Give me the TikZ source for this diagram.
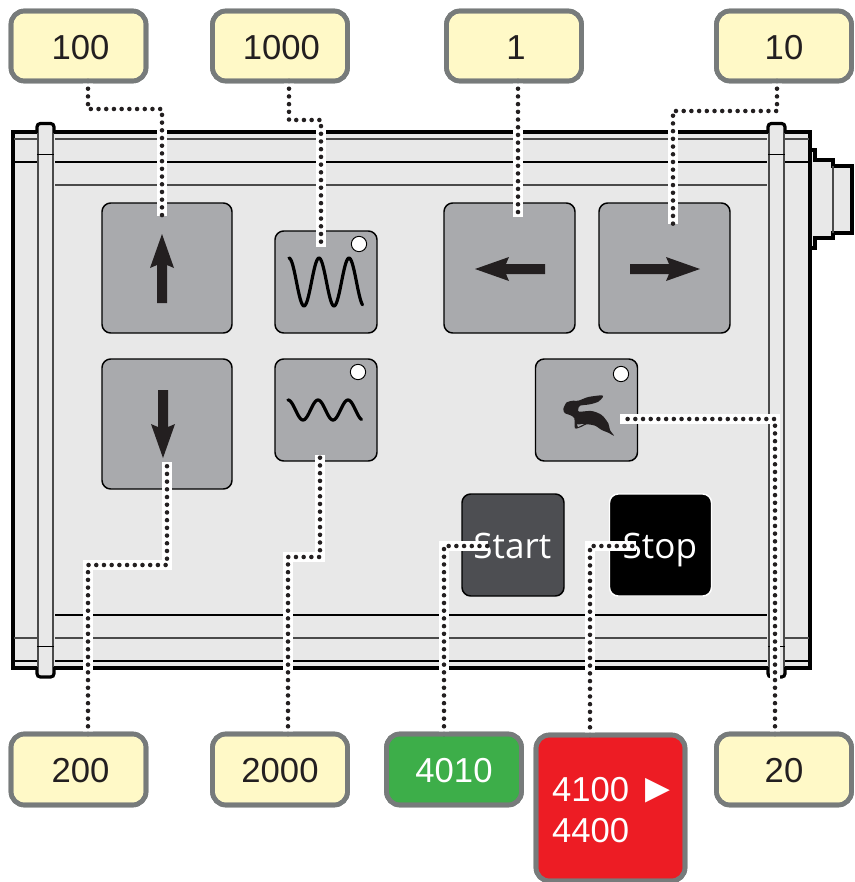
\documentclass[tikz,border=0pt]{standalone}
\usepackage{fontspec}
\setmainfont{Liberation Sans}
\newfontfamily\btnfont{Open Sans}
\definecolor{panelfill}{HTML}{E8E8E8}
\definecolor{btnfill}{HTML}{A9AAAD}
\definecolor{glyph}{HTML}{231F20}
\definecolor{startfill}{HTML}{4D4E52}
\definecolor{labfill}{HTML}{FFF9C7}
\definecolor{labedge}{HTML}{777B7B}
\definecolor{okfill}{HTML}{3DAE49}
\definecolor{stopfill}{HTML}{ED1C24}
\definecolor{railgrey}{HTML}{4A4A4A}
\tikzset{
  sized/.style 2 args={minimum width=#1*0.75pt,minimum height=#2*0.75pt,inner sep=0pt,outer sep=0pt},
  btn/.style={rectangle,draw=black,fill=btnfill,line width=1.1pt,rounded corners=6.5pt},
  led/.style={circle,draw=black,fill=white,line width=0.7pt,minimum size=11.5pt,inner sep=0pt,outer sep=0pt},
  callout/.style={rectangle,draw=labedge,fill=labfill,line width=3.5pt,rounded corners=10pt,text=glyph,font=\fontsize{26}{31}\selectfont},
  toplab/.style={callout,text height=20pt,text depth=0pt},
  botlab/.style={callout,text height=19.4pt,text depth=0pt},
  halo/.style={draw=white,line width=6.8pt},
  leader/.style={draw=glyph,line width=3.4pt,line cap=round,dash pattern=on 0pt off 5.78pt},
  rail/.style={draw=black,line width=1pt},
  railg/.style={draw=railgrey,line width=1.3pt},
  glyphfill/.style={fill=glyph,draw=none},
  wave/.style={draw=black,line width=2.4pt,line cap=round,line join=round},
  keytext/.style={text=white,font=\btnfont\fontsize{26.3}{30}\selectfont,text height=20pt,text depth=0pt},
}
\begin{document}
\begin{tikzpicture}[x=0.75pt,y=-0.75pt]
\useasboundingbox (0,0) rectangle (854,882);
% connector housing on the right
\fill[panelfill] (810,150) -- (815,150) -- (815,160) -- (833,160) -- (833,166) -- (852,166) -- (852,233) -- (833,233) -- (833,238) -- (815,238) -- (815,248) -- (810,248) -- cycle;
\draw[black,line width=2.3pt,line join=miter] (810,150) -- (815,150) -- (815,160) -- (833,160) -- (833,166) -- (852,166) -- (852,233) -- (833,233) -- (833,238) -- (815,238) -- (815,248) -- (810,248);
\draw[railg] (833,166) -- (833,233);
% panel
\draw[black,fill=panelfill,line width=2.4pt] (13,132) rectangle (810,668);
\draw[railg] (14,139) -- (37,139) (55,139) -- (767,139) (785,139) -- (809,139);
\draw[rail] (14,162) -- (37,162) (55,162) -- (767,162) (785,162) -- (809,162);
\draw[railg] (55,185) -- (767,185);
\draw[rail] (55,615) -- (767,615);
\draw[railg] (14,638) -- (37,638) (55,638) -- (767,638) (785,638) -- (809,638);
\draw[rail] (14,661) -- (37,661) (55,661) -- (767,661) (785,661) -- (809,661);
% clamp strips
\foreach \xa/\xb in {37/54,768/785}{
  \fill[panelfill] (\xa,124) rectangle (\xb,677);
  \draw[black,line width=2.4pt,rounded corners=2.5pt] (\xa,133) -- (\xa,123.5) -- (\xb,123.5) -- (\xb,133);
  \draw[black,line width=2.4pt,rounded corners=2.5pt] (\xa,667) -- (\xa,677) -- (\xb,677) -- (\xb,667);
  \draw[draw=railgrey,line width=2pt] (\xa+1,133) -- (\xa+1,667) (\xb-1,133) -- (\xb-1,667);
  \draw[black,line width=0.7pt] (\xa,154) -- (\xb,154) (\xa,646) -- (\xb,646);
}
% buttons
\node[btn,sized={130}{130}] (bUp) at (167,268) {};
\node[btn,sized={130}{130}] (bDown) at (167,424) {};
\node[btn,sized={131}{130}] (bLeft) at (509.5,268) {};
\node[btn,sized={131}{130}] (bRight) at (664.5,268) {};
\node[btn,sized={102}{102}] (bHigh) at (326,282) {};
\node[btn,sized={102}{102}] (bLow) at (326,410) {};
\node[btn,sized={102}{102}] (bFast) at (586.5,410) {};
\node[btn,fill=startfill,sized={102}{102},keytext] (bStart) at (513,545) {\kern-1pt Start};
\node[btn,draw=white,fill=black,sized={102}{102},keytext] (bStop) at (660.5,545) {\kern-1pt Stop};
\node[led] (ledHigh) at (359,244) {};
\node[led] (ledLow) at (358,372) {};
\node[led] (ledFast) at (621,374) {};
% arrows
\fill[glyphfill] (162,234) -- (174,268) -- (167,265) -- (167,303) -- (157,303) -- (157,265) -- (150,268) -- cycle;
\fill[glyphfill] (163,458) -- (151,424) -- (158,427) -- (158,390) -- (168,390) -- (168,427) -- (175,424) -- cycle;
\fill[glyphfill] (475,269) -- (509,257) -- (506,264) -- (545,264) -- (545,274) -- (506,274) -- (509,281) -- cycle;
\fill[glyphfill] (700,269) -- (666,257) -- (669,264) -- (630,264) -- (630,274) -- (669,274) -- (666,281) -- cycle;
% waves
\draw[wave] plot[domain=0:2.45,samples=80,smooth] ({289+\x*30},{282-24*cos(360*\x)});
\draw[wave] plot[domain=0:2.45,samples=80,smooth] ({288+\x*30},{410-10*cos(360*\x)});
% hare
\fill[glyphfill] plot[smooth cycle,tension=0.45] coordinates {(563.3,409) (566.7,402.3) (573.3,400.7) (578.3,400.7) (588.3,397) (601.7,395.3) (602.7,397.3) (598.3,401.7) (590,404.3) (580,405.7) (578.3,409) (579,411.7) (591.7,411) (601.7,415) (608.3,423.3) (610,430) (614,435.7) (608.3,432.7) (601.7,430) (595,425.7) (586.7,424.3) (581.7,426.7) (575,428.3) (574.3,418.3) (570,415) (565,413.3)};
\fill[btnfill] (577,424.5) -- (584,424) -- (578,427) -- cycle;
% labels
\node[toplab,sized={135}{70}] (l100) at (78.5,46) {\kern3pt 100};
\node[toplab,sized={135}{70}] (l1000) at (280,46) {\kern2pt 1000};
\node[toplab,sized={135}{70}] (l1) at (514,46) {\kern3pt 1};
\node[toplab,sized={135}{70}] (l10) at (784,46) {10};
\node[botlab,sized={135}{71}] (l200) at (78.5,769.5) {\kern3pt 200};
\node[botlab,sized={135}{71}] (l2000) at (280,769.5) {2000};
\node[botlab,fill=okfill,text=white,sized={135}{71}] (l4010) at (454,769.5) {4010};
\node[callout,fill=stopfill,text=white,sized={149}{146},align=left] (l4100) at (610.5,808) {\rule{0pt}{21pt}\kern7pt 4100\kern-1pt{} {\fontsize{31}{31}\selectfont\raisebox{-1pt}{►}}\\\kern7pt 4400};
\node[botlab,sized={135}{71}] (l20) at (784,769.5) {20};
% connector ends
\coordinate (eUp) at (162,216);
\coordinate (eHigh) at (321,247);
\coordinate (eLeft) at (518,217);
\coordinate (eRight) at (673,224);
\coordinate (eDown) at (167,462);
\coordinate (eLow) at (320,455);
\coordinate (eStart) at (488,546);
\coordinate (eStop) at (636,546);
\coordinate (eFast) at (620,419);
\foreach \st in {halo,leader}{
  \path[\st] (l100.south -| 88,0) -- (88,109) -- (162,109) -- (eUp);
  \path[\st] (l1000.south -| 289,0) -- (289,120) -- (321,120) -- (eHigh);
  \path[\st] (l1.south -| eLeft) -- (eLeft);
  \path[\st] (l10.south -| 777,0) -- (777,111) -- (673,111) -- (eRight);
  \path[\st] (l200.north -| 88,0) -- (88,565) -- (167,565) -- (eDown);
  \path[\st] (l2000.north -| 288,0) -- (288,557) -- (320,557) -- (eLow);
  \path[\st] (l4010.north -| 444,0) -- (444,546) -- (eStart);
  \path[\st] (l4100.north -| 590,0) -- (590,546) -- (eStop);
  \path[\st] (l20.north -| 775,0) -- (775,419) -- (eFast);
}
% label borders above the halo ends
\foreach \n in {l100,l1000,l1,l10,l200,l2000,l4010,l4100,l20}{
  \draw[labedge,line width=3.5pt,rounded corners=10pt] (\n.south west) rectangle (\n.north east);
}
\end{tikzpicture}
\end{document}
